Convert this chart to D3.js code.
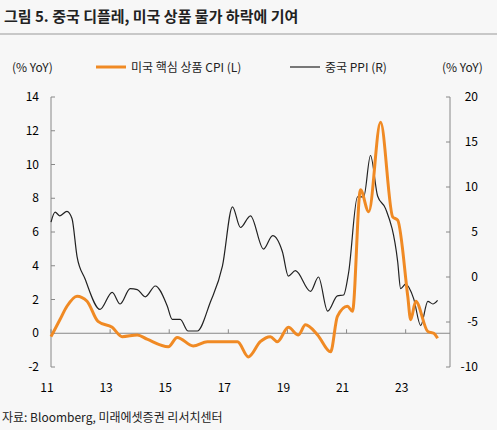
<!DOCTYPE html><html><head><meta charset="utf-8"><script src="https://cdn.jsdelivr.net/npm/d3@7"></script>
<style>body{margin:0;background:#f7f7f7}text{font-family:"Noto Sans CJK KR","Noto Sans",sans-serif}</style></head><body><svg width="497" height="430"></svg><script>
const cpiX=[2011.0,2011.3,2011.54,2011.88,2012.22,2012.59,2013.07,2013.41,2013.92,2014.25,2014.97,2015.27,2015.81,2016.29,2016.73,2017.31,2017.68,2018.08,2018.42,2018.66,2019.03,2019.37,2019.61,2020.02,2020.46,2020.69,2021.03,2021.2,2021.47,2021.75,2022.15,2022.56,2022.73,2023.07,2023.17,2023.34,2023.75,2023.95,2024.08];
const cpiY=[-0.2,0.8,1.6,2.2,1.9,0.7,0.35,-0.2,-0.1,-0.35,-0.8,-0.25,-0.75,-0.5,-0.5,-0.5,-1.4,-0.5,-0.2,-0.5,0.35,-0.1,0.5,-0.1,-1.1,1.0,1.6,1.3,8.5,7.2,12.5,6.9,6.7,2.2,0.8,1.9,0.1,0.0,-0.3];
const ppiX=[2011.0,2011.14,2011.3,2011.54,2011.71,2011.88,2012.15,2012.66,2013.07,2013.34,2013.68,2013.92,2014.19,2014.53,2014.93,2015.1,2015.37,2015.64,2015.95,2016.39,2016.8,2017.14,2017.41,2017.75,2018.19,2018.5,2018.83,2019.03,2019.27,2019.78,2020.05,2020.36,2020.69,2020.9,2021.07,2021.37,2021.58,2021.81,2022.05,2022.32,2022.73,2022.83,2023.0,2023.27,2023.51,2023.75,2023.92,2024.08];
const ppiY=[6.1,7.2,6.8,7.3,6.5,2.3,-0.2,-3.6,-1.7,-3.0,-1.3,-1.4,-2.2,-1.0,-3.2,-4.7,-4.7,-6.0,-6.0,-2.8,1.2,7.8,5.5,6.8,3.1,4.6,2.8,0.1,0.7,-1.6,0.0,-3.8,-2.1,-2.0,0.5,8.9,8.9,13.5,9.0,7.6,1.7,-1.3,-0.8,-2.4,-5.4,-2.7,-3.0,-2.6];
const leftTicks=[-2,0,2,4,6,8,10,12,14], rightTicks=[-10,-5,0,5,10,15,20], xTicks=[2011,2013,2015,2017,2019,2021,2023];
const svg=d3.select("svg");
const L=51,R=450,T=97,B=367;
const x=d3.scaleLinear().domain([2011,2024.5]).range([L,R]);
const yl=d3.scaleLinear().domain([-2,14]).range([B,T]);
const yr=d3.scaleLinear().domain([-10,20]).range([B,T]);
svg.append("text").attr("x",4).attr("y",22).attr("font-size",15).attr("font-weight","bold").attr("fill","#222").text("그림 5. 중국 디플레, 미국 상품 물가 하락에 기여");
svg.append("line").attr("x1",0).attr("x2",497).attr("y1",34).attr("y2",34).attr("stroke","#999");
svg.append("text").attr("x",12).attr("y",72).attr("font-size",12).attr("fill","#222").text("(% YoY)");
svg.append("text").attr("x",442).attr("y",72).attr("font-size",12).attr("fill","#222").text("(% YoY)");
svg.append("line").attr("x1",96).attr("x2",126).attr("y1",67).attr("y2",67).attr("stroke","#f08a24").attr("stroke-width",3);
svg.append("text").attr("x",131).attr("y",72).attr("font-size",12).attr("fill","#222").text("미국 핵심 상품 CPI (L)");
svg.append("line").attr("x1",290).attr("x2",320).attr("y1",67).attr("y2",67).attr("stroke","#222").attr("stroke-width",1.2);
svg.append("text").attr("x",325).attr("y",72).attr("font-size",12).attr("fill","#222").text("중국 PPI (R)");
const ga=svg.append("g").attr("font-size",12);
ga.append("line").attr("x1",L).attr("x2",L).attr("y1",T).attr("y2",B).attr("stroke","#888");
ga.append("line").attr("x1",R).attr("x2",R).attr("y1",T).attr("y2",B).attr("stroke","#888");
leftTicks.forEach(t=>{ga.append("line").attr("x1",L).attr("x2",L+4).attr("y1",yl(t)).attr("y2",yl(t)).attr("stroke","#888");
 ga.append("text").attr("x",L-12).attr("y",yl(t)+4).attr("text-anchor","end").text(t);});
rightTicks.forEach(t=>{ga.append("line").attr("x1",R-4).attr("x2",R).attr("y1",yr(t)).attr("y2",yr(t)).attr("stroke","#888");
 ga.append("text").attr("x",R+28).attr("y",yr(t)+4).attr("text-anchor","end").text(t);});
ga.append("line").attr("x1",L).attr("x2",R).attr("y1",yl(0)).attr("y2",yl(0)).attr("stroke","#888");
xTicks.forEach(t=>{ga.append("line").attr("x1",x(t)).attr("x2",x(t)).attr("y1",yl(0)).attr("y2",yl(0)-4).attr("stroke","#888");
 ga.append("text").attr("x",x(t)-4).attr("y",B+25).attr("text-anchor","middle").text(String(t).slice(2));});
const lp=d3.line().curve(d3.curveMonotoneX);
svg.append("path").attr("d",lp(ppiX.map((d,i)=>[x(d),yr(ppiY[i])]))).attr("fill","none").attr("stroke","#222").attr("stroke-width",1.2);
svg.append("path").attr("d",lp(cpiX.map((d,i)=>[x(d),yl(cpiY[i])]))).attr("fill","none").attr("stroke","#f08a24").attr("stroke-width",3);
svg.append("text").attr("x",2).attr("y",422).attr("font-size",12).attr("fill","#222").text("자료: Bloomberg, 미래에셋증권 리서치센터");
</script></body></html>
